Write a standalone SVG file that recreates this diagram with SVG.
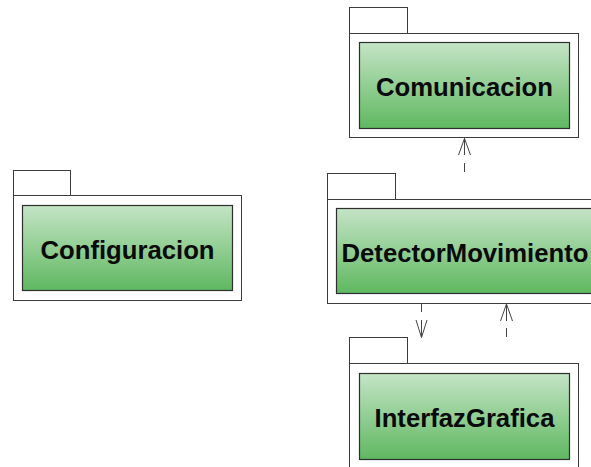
<svg xmlns="http://www.w3.org/2000/svg" width="591" height="467" viewBox="0 0 591 467">
  <defs>
    <linearGradient id="pkgFill" x1="0" y1="0" x2="0" y2="1">
      <stop offset="0" stop-color="#c4e4c6"/>
      <stop offset="1" stop-color="#5fb860"/>
    </linearGradient>
    <style>
      .tab, .body { fill: #ffffff; stroke: #3c3c3c; stroke-width: 1; }
      .inner { fill: url(#pkgFill); stroke: #2e2e2e; stroke-width: 1.2; }
      .label { font-family: "Liberation Sans", Arial, sans-serif; font-weight: bold; font-size: 25.7px; fill: #0a0a0a; text-anchor: middle; }
      .dep { fill: none; stroke: #444444; stroke-width: 1; }
    </style>
  </defs>
  <rect width="591" height="467" fill="#ffffff"/>

  <g id="Comunicacion">
    <rect class="tab" x="349.5" y="7.5" width="58" height="26"/>
    <rect class="body" x="349.5" y="33.5" width="229" height="104"/>
    <rect class="inner" x="359.5" y="42.5" width="210" height="86"/>
    <text class="label" x="464.5" y="96">Comunicacion</text>
  </g>

  <g id="DetectorMovimiento">
    <rect class="tab" x="327.5" y="173.5" width="68" height="26"/>
    <rect class="body" x="327.5" y="199.5" width="274" height="104"/>
    <rect class="inner" x="336.5" y="208.5" width="257" height="85"/>
    <text class="label" x="465" y="262">DetectorMovimiento</text>
  </g>

  <g id="InterfazGrafica">
    <rect class="tab" x="349.5" y="337.5" width="58" height="26"/>
    <rect class="body" x="349.5" y="363.5" width="229" height="110"/>
    <rect class="inner" x="359.5" y="373.5" width="210" height="86"/>
    <text class="label" x="464.5" y="427">InterfazGrafica</text>
  </g>

  <g id="Configuracion">
    <rect class="tab" x="13.5" y="170.5" width="57" height="25"/>
    <rect class="body" x="13.5" y="195.5" width="228" height="105"/>
    <rect class="inner" x="22.5" y="205.5" width="210" height="85"/>
    <text class="label" x="127.5" y="259">Configuracion</text>
  </g>

  <g id="connectors">
    <!-- DetectorMovimiento depends on Comunicacion -->
    <path class="dep" d="M464.5,172 V163 M464.5,155 V138.5"/>
    <path class="dep" d="M458.5,155 L464.5,138.5 L470.5,155"/>
    <!-- DetectorMovimiento depends on InterfazGrafica -->
    <path class="dep" d="M421.5,304 V312 M421.5,320 V337.5"/>
    <path class="dep" d="M416,320 L421.5,337.5 L427,320"/>
    <!-- InterfazGrafica depends on DetectorMovimiento -->
    <path class="dep" d="M506.5,337 V328 M506.5,321 V304"/>
    <path class="dep" d="M500.5,321 L506.5,304 L512.5,321"/>
  </g>
</svg>
